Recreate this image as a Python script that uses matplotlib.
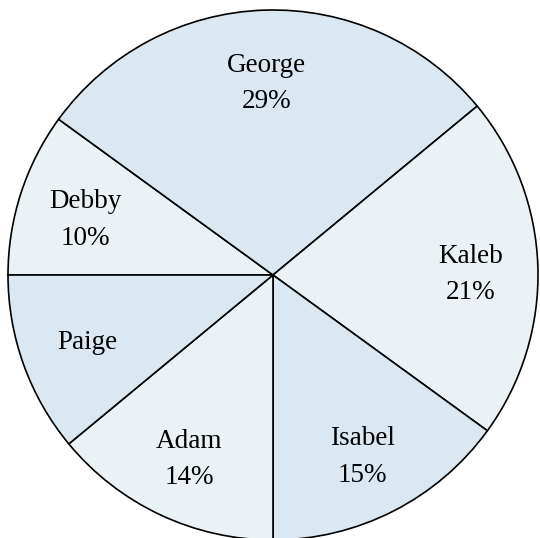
import numpy as np
import matplotlib
matplotlib.use('Agg')
import matplotlib.pyplot as plt

# datos (orden horario empezando a las 9 en punto)
nombres = ['Debby', 'George', 'Kaleb', 'Isabel', 'Adam', 'Paige']
valores = [10, 29, 21, 15, 14, 11]
mostrar_pct = [True, True, True, True, True, False]

OSCURO = '#dce8f1'
CLARO = '#ebf2f6'
colores = [CLARO, OSCURO, CLARO, OSCURO, CLARO, OSCURO]

W, H = 540, 538
fig = plt.figure(figsize=(W / 100, H / 100), dpi=100)
ax = fig.add_axes([0, 0, 1, 1])

centro = (273, H - 275)
radio = 265

wedges, _ = ax.pie(valores, colors=colores, startangle=180, counterclock=False,
                   center=centro, radius=radio,
                   wedgeprops=dict(edgecolor='black', linewidth=1.2))
ax.set_xlim(0, W)
ax.set_ylim(0, H)
ax.set_aspect('equal')
ax.axis('off')

total = sum(valores)
for w, nombre, v, pct in zip(wedges, nombres, valores, mostrar_pct):
    ang = np.deg2rad((w.theta1 + w.theta2) / 2)
    x = centro[0] + 0.745 * radio * np.cos(ang)
    y = centro[1] + 0.745 * radio * np.sin(ang)
    if pct:
        txt = f"{nombre}\n{round(100 * v / total)}%"
        y -= 6
    else:
        txt = nombre
        y -= 1
    ax.text(x, y, txt, ha='center', va='center', fontsize=19.5,
            family='Liberation Serif', linespacing=1.6, color='black')

fig.savefig('out.png', dpi=100)
